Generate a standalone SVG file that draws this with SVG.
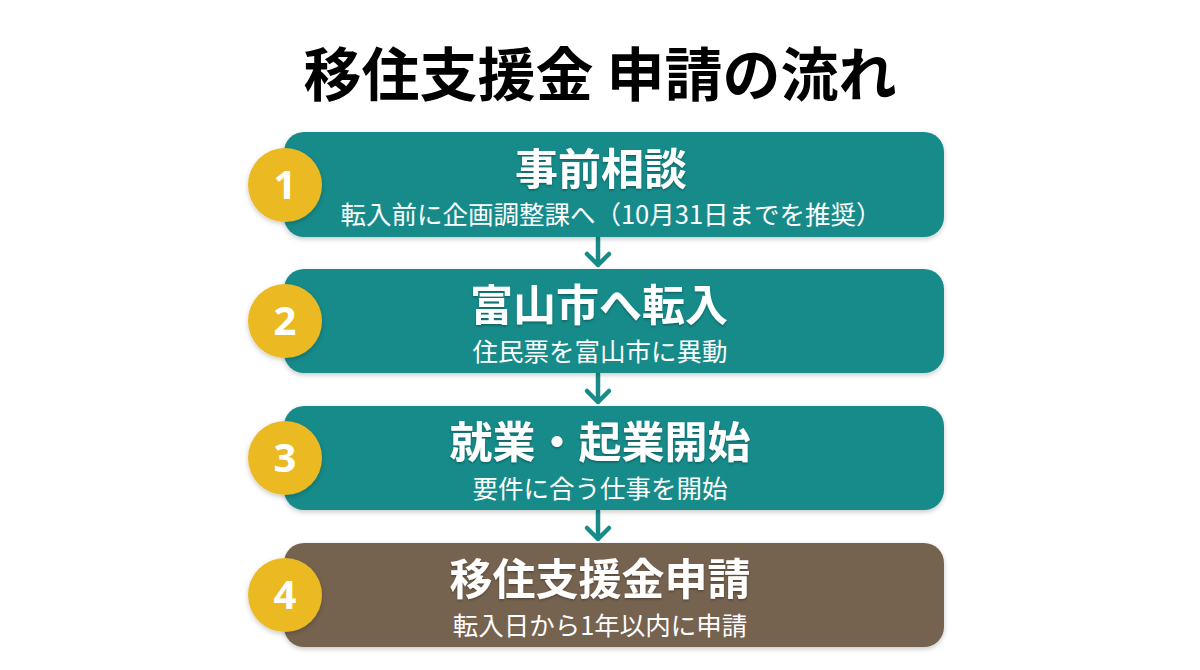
<svg xmlns="http://www.w3.org/2000/svg" width="1200" height="670" viewBox="0 0 1200 670">
  <defs>
    <filter id="sh" x="-10%" y="-20%" width="120%" height="150%">
      <feDropShadow dx="0" dy="2" stdDeviation="2.5" flood-color="#000" flood-opacity="0.22"/>
    </filter>
    <filter id="tsh" x="-5%" y="-20%" width="110%" height="150%">
      <feDropShadow dx="0" dy="1.5" stdDeviation="1.2" flood-color="#000" flood-opacity="0.3"/>
    </filter>
  </defs>
  <style>
    .title { font-family: "Noto Sans CJK JP", "Noto Sans", sans-serif; font-weight: 700; font-size: 58px; fill: #000; }
    .box-teal { fill: #178B8A; }
    .box-brown { fill: #76634F; }
    .badge { fill: #EBBA24; }
    .num { font-family: "Noto Sans", "Noto Sans CJK JP", sans-serif; font-weight: 700; font-size: 40px; fill: #fff; }
    .head { font-family: "Noto Sans CJK JP", sans-serif; font-weight: 700; font-size: 43px; fill: #fff; }
    .sub { font-family: "Noto Sans CJK JP", sans-serif; font-weight: 400; font-size: 25.5px; fill: #fff; }
    .conn { stroke: #178B8A; stroke-width: 4.5; fill: none; stroke-linecap: round; stroke-linejoin: round; }
  </style>
  <rect width="1200" height="670" fill="#fff"/>
  <text class="title" x="600" y="96" text-anchor="middle">移住支援金 申請の流れ</text>

  <g id="connectors">
    <path class="conn" d="M598 238 V265 M587 254 L598 265 L609 254"/>
    <path class="conn" d="M598 374 V402 M587 391 L598 402 L609 391"/>
    <path class="conn" d="M598 511 V539 M587 528 L598 539 L609 528"/>
  </g>

  <g id="step1">
    <rect class="box-teal" x="284" y="132" width="660" height="105" rx="20" filter="url(#sh)"/>
    <circle class="badge" cx="285" cy="185" r="37" filter="url(#sh)"/>
    <text class="num" x="285" y="199" text-anchor="middle">1</text>
    <text class="head" x="601" y="185" text-anchor="middle" filter="url(#tsh)">事前相談</text>
    <text class="sub" x="611" y="224" text-anchor="middle">転入前に企画調整課へ（10月31日までを推奨）</text>
  </g>

  <g id="step2">
    <rect class="box-teal" x="284" y="269" width="660" height="104" rx="20" filter="url(#sh)"/>
    <circle class="badge" cx="285" cy="321" r="37" filter="url(#sh)"/>
    <text class="num" x="285" y="335" text-anchor="middle">2</text>
    <text class="head" x="599" y="321" text-anchor="middle" filter="url(#tsh)">富山市へ転入</text>
    <text class="sub" x="600" y="361" text-anchor="middle">住民票を富山市に異動</text>
  </g>

  <g id="step3">
    <rect class="box-teal" x="284" y="406" width="660" height="104" rx="20" filter="url(#sh)"/>
    <circle class="badge" cx="285" cy="458" r="37" filter="url(#sh)"/>
    <text class="num" x="285" y="472" text-anchor="middle">3</text>
    <text class="head" x="600" y="458" text-anchor="middle" filter="url(#tsh)">就業・起業開始</text>
    <text class="sub" x="600" y="498" text-anchor="middle">要件に合う仕事を開始</text>
  </g>

  <g id="step4">
    <rect class="box-brown" x="284" y="543" width="660" height="104" rx="20" filter="url(#sh)"/>
    <circle class="badge" cx="285" cy="595" r="37" filter="url(#sh)"/>
    <text class="num" x="285" y="609" text-anchor="middle">4</text>
    <text class="head" x="600" y="595" text-anchor="middle" filter="url(#tsh)">移住支援金申請</text>
    <text class="sub" x="600" y="635" text-anchor="middle">転入日から1年以内に申請</text>
  </g>
</svg>
